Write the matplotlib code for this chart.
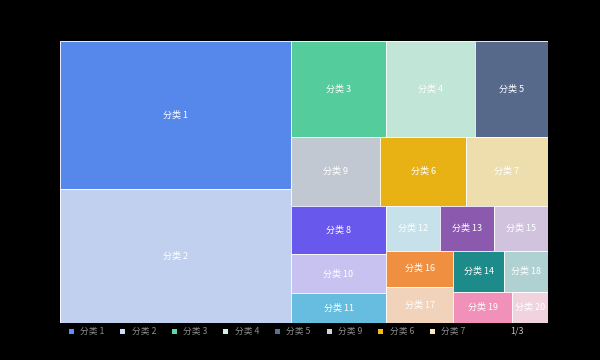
import matplotlib
matplotlib.use('Agg')
import matplotlib.pyplot as plt
from matplotlib.patches import Rectangle
import numpy as np

plt.rcParams['font.family'] = ['Noto Sans CJK SC', 'DejaVu Sans']

# data (sorted as in the legend)
categories = ['分类 1', '分类 2', '分类 3', '分类 4', '分类 5', '分类 9', '分类 6', '分类 7',
              '分类 8', '分类 10', '分类 11', '分类 12', '分类 13', '分类 15', '分类 16',
              '分类 17', '分类 14', '分类 18', '分类 19', '分类 20']
values = [340, 306, 91, 85, 70, 61, 58, 56, 46, 37, 28, 24, 24, 24, 24, 24, 21, 18, 18, 11]

colour_list = ['#5B8FF9', '#CDDDFD', '#5AD8A6', '#CDF3E4', '#5D7092', '#CED4DE', '#F6BD16',
               '#FCEBB9', '#6F5EF9', '#D3CEFD', '#6DC8EC', '#D3EEF9', '#945FB9', '#DECFEA',
               '#FF9845', '#FFE0C7', '#1E9493', '#BBDEDE', '#FF99C3', '#FFE0ED']

legend_page = '1/3'
legend_count = 8

PHI = 0.5 * (1 + np.sqrt(5))


def squarify(vals, x0, y0, x1, y1, ratio=PHI):
    # d3 style squarified layout, done in the unit square
    n = len(vals)
    out = [None] * n
    value = float(sum(vals))
    i0 = i1 = 0
    while i0 < n:
        dx, dy = x1 - x0, y1 - y0
        sum_v = vals[i1]
        i1 += 1
        min_v = max_v = sum_v
        alpha = max(dy / dx, dx / dy) / (value * ratio)
        beta = sum_v * sum_v * alpha
        min_ratio = max(max_v / beta, beta / min_v)
        while i1 < n:
            v = vals[i1]
            sum_v += v
            min_v = min(min_v, v)
            max_v = max(max_v, v)
            beta = sum_v * sum_v * alpha
            new_ratio = max(max_v / beta, beta / min_v)
            if new_ratio > min_ratio:
                sum_v -= v
                break
            min_ratio = new_ratio
            i1 += 1
        row = list(range(i0, i1))
        if dx < dy:
            # row across the top
            yk = y0 + dy * sum_v / value if i1 < n else y1
            x = x0
            for k in row:
                w = dx * vals[k] / sum_v
                out[k] = (x, y0, w, yk - y0)
                x += w
            y0 = yk
        else:
            # column down the left
            xk = x0 + dx * sum_v / value if i1 < n else x1
            y = y0
            for k in row:
                h = dy * vals[k] / sum_v
                out[k] = (x0, y, xk - x0, h)
                y += h
            x0 = xk
        value -= sum_v
        i0 = i1
    return out


fig = plt.figure(figsize=(6, 3.6), dpi=100, facecolor='black')
ax = fig.add_axes([60 / 600, 1 - 323 / 360, 488 / 600, 282 / 360])
ax.set_facecolor('black')
ax.set_xlim(0, 1)
ax.set_ylim(1, 0)
ax.axis('off')

rects = squarify(values, 0, 0, 1, 1)
for (x, y, w, h), name, c in zip(rects, categories, colour_list):
    ax.add_patch(Rectangle((x, y), w, h, facecolor=c, alpha=0.95, edgecolor='none'))
    ax.add_patch(Rectangle((x, y), w, h, facecolor='none', edgecolor='white',
                           linewidth=0.7, alpha=0.85))
    ax.text(x + w / 2, y + h / 2, name, ha='center', va='center',
            color='white', fontsize=6.5)

# legend (first page)
for i in range(legend_count):
    cx = (71 + 51.6 * i) / 600
    cy = 1 - 331 / 360
    fig.add_artist(Rectangle((cx - 2.5 / 600, cy - 2.5 / 360), 5 / 600, 5 / 360,
                             transform=fig.transFigure, facecolor=colour_list[i],
                             edgecolor='none'))
    fig.text(cx + 9 / 600, cy, categories[i], color='#8c8c8c', fontsize=6.3,
             ha='left', va='center')
fig.text(517 / 600, 1 - 331 / 360, legend_page, color='#bfbfbf', fontsize=6.5,
         ha='center', va='center')

fig.savefig('out.png', dpi=100, facecolor='black')
